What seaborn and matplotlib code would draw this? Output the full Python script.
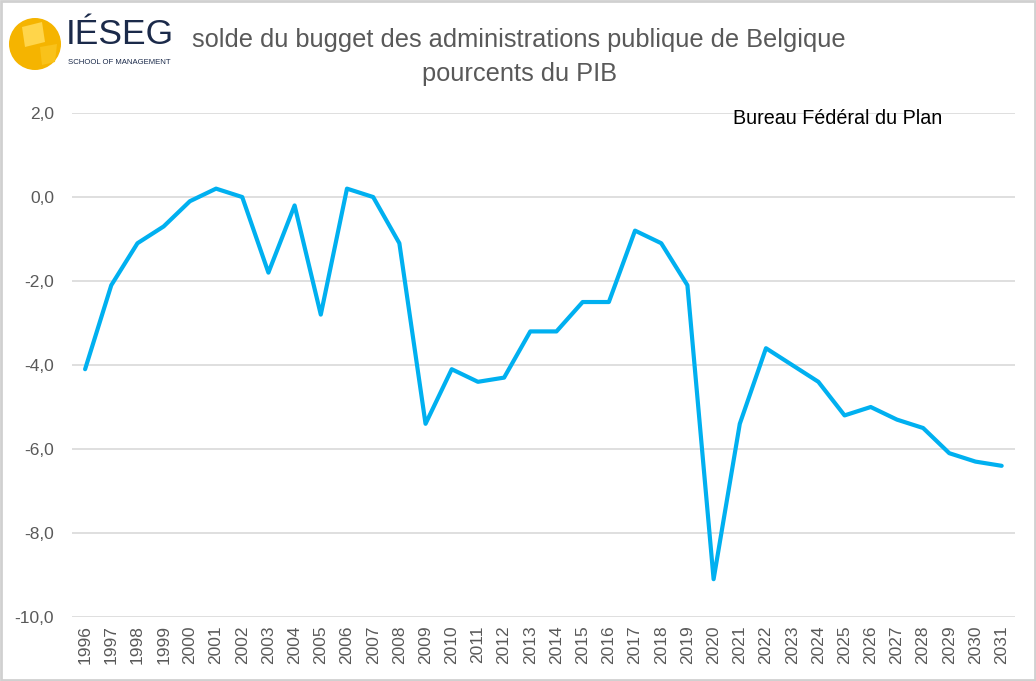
import pandas as pd
import numpy as np
import matplotlib
matplotlib.use('Agg')
import matplotlib.pyplot as plt
import seaborn as sns
from matplotlib.patches import Ellipse, Rectangle, Polygon

# Data (solde budgétaire, % du PIB)
years = list(range(1996, 2032))
solde = [-4.1, -2.1, -1.1, -0.7, -0.1, 0.2, 0.0, -1.8, -0.2, -2.8,
         0.2, 0.0, -1.1, -5.4, -4.1, -4.4, -4.3, -3.2, -3.2, -2.5,
         -2.5, -0.8, -1.1, -2.1, -9.1, -5.4, -3.6, -4.0, -4.4, -5.2,
         -5.0, -5.3, -5.5, -6.1, -6.3, -6.4]
yticks = [2, 0, -2, -4, -6, -8, -10]

df = pd.DataFrame({'annee': years, 'solde': solde})

sns.set_theme(style='white')
plt.rcParams['font.family'] = ['Liberation Sans', 'DejaVu Sans']

W, H = 1036, 681
fig = plt.figure(figsize=(W / 100, H / 100), dpi=100)
ax = fig.add_axes([0.0695, 0.094, 0.910, 0.740])

sns.lineplot(data=df, x='annee', y='solde', ax=ax, color='#00B0F0', linewidth=3.0)

ax.set_xlim(1995.5, 2031.5)
ax.set_ylim(-10, 2)
ax.set_yticks(yticks)
ax.set_yticklabels([f'{v:.1f}'.replace('.', ',') for v in yticks], color='#595959', fontsize=12.5)
ax.set_xticks(years)
ax.set_xticklabels([str(y) for y in years], rotation=90, color='#595959', fontsize=12.5)
ax.tick_params(axis='y', length=0, pad=13)
ax.tick_params(axis='x', length=0, pad=6)
ax.yaxis.grid(True, color='#d9d9d9', linewidth=1.2)
ax.set_axisbelow(True)
for s in ax.spines.values():
    s.set_visible(False)
ax.set_xlabel('')
ax.set_ylabel('')

# Title
fig.text(0.501, 0.941, 'solde du bugget des administrations publique de Belgique',
         ha='center', va='center', fontsize=18.3, color='#595959')
fig.text(0.501, 0.891, 'pourcents du PIB', ha='center', va='center',
         fontsize=18.3, color='#595959')
fig.text(0.708, 0.826, 'Bureau Fédéral du Plan', ha='left', va='center',
         fontsize=14.2, color='black')

# Logo (approximation)
fig.patches.append(Ellipse((35 / W, 1 - 44 / H), 52 / W, 52 / H, transform=fig.transFigure,
                           facecolor='#F5B400', edgecolor='none'))
fig.patches.append(Polygon([(22 / W, 1 - 27 / H), (42 / W, 1 - 22 / H), (45 / W, 1 - 42 / H),
                            (25 / W, 1 - 47 / H)], closed=True, transform=fig.transFigure,
                           facecolor='#FFD54A', edgecolor='none'))
fig.patches.append(Polygon([(40 / W, 1 - 47 / H), (57 / W, 1 - 44 / H), (55 / W, 1 - 62 / H),
                            (42 / W, 1 - 65 / H)], closed=True, transform=fig.transFigure,
                           facecolor='#F9C21A', edgecolor='none'))
fig.text(66 / W, 1 - 35 / H, 'IÉSEG', ha='left', va='center', fontsize=25.5,
         color='#1B2A4A')
fig.text(68 / W, 1 - 62 / H, 'SCHOOL OF MANAGEMENT', ha='left', va='center',
         fontsize=5.6, color='#1B2A4A')

# Border
fig.patches.append(Rectangle((0.001, 0.001), 0.998, 0.997, transform=fig.transFigure,
                             fill=False, edgecolor='#d0d0d0', linewidth=2))

fig.savefig('out.png', dpi=100)
